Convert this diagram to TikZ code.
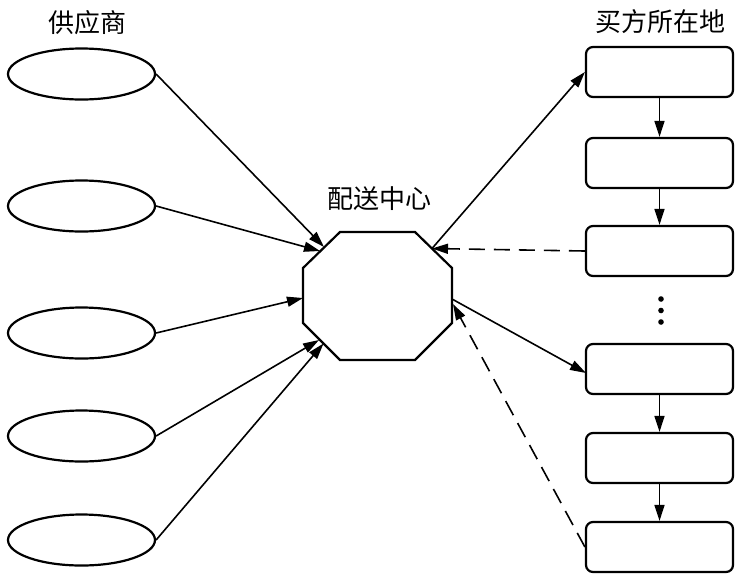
\documentclass[tikz,border=0pt]{standalone}
\usepackage{fontspec}
\newfontfamily\cjk{Noto Sans CJK SC}
\usetikzlibrary{shapes.geometric,arrows.meta}
\begin{document}
\begin{tikzpicture}[x=1pt,y=-1pt,
  sup/.style={ellipse,draw,line width=2.2pt,minimum width=147pt,minimum height=51pt,inner sep=0pt},
  buyer/.style={draw,rounded corners=7pt,line width=2.2pt,minimum width=147pt,minimum height=50pt,inner sep=0pt},
  lbl/.style={font=\cjk\fontsize{26}{26}\selectfont,inner sep=0pt},
  arr/.style={line width=1.6pt,-{Triangle[length=16pt,width=10pt]}},
  darr/.style={arr,dash pattern=on 16pt off 9pt}]
\useasboundingbox (0,0) rectangle (741,582);
% labels
\node[lbl] (lsup) at (87,23) {供应商};
\node[lbl] (lbuy) at (660,22) {买方所在地};
\node[lbl] (lhub) at (379,199) {配送中心};
% suppliers
\node[sup] (e1) at (81.5,74) {};
\node[sup] (e2) at (81.5,206) {};
\node[sup] (e3) at (81.5,333) {};
\node[sup] (e4) at (81.5,436) {};
\node[sup] (e5) at (81.5,540) {};
% buyers
\node[buyer] (r1) at (659.5,72) {};
\node[buyer] (r2) at (659.5,163) {};
\node[buyer] (r3) at (659.5,251) {};
\node[buyer] (r4) at (659.5,369) {};
\node[buyer] (r5) at (659.5,458) {};
\node[buyer] (r6) at (659.5,547) {};
% hub octagon
\draw[line width=2.2pt] (340,232) -- (415,232) -- (452,268) -- (452,323) -- (415,360) -- (340,360) -- (303,323) -- (303,268) -- cycle;
\coordinate (h1) at (324,247);
\coordinate (h2) at (320,251);
\coordinate (h3) at (303,298);
\coordinate (h4) at (319,340);
\coordinate (h5) at (323.5,343.5);
\coordinate (hR1) at (432,248.5);
\coordinate (hR2) at (452,299);
\coordinate (hR3) at (453,304);
\coordinate (r4in) at (586,373);
% dots
\fill (661,299) circle (2.8pt);
\fill (661,310.5) circle (2.8pt);
\fill (661,322) circle (2.8pt);
% connectors
\draw[arr] (e1.east) -- (h1);
\draw[arr] (e2.east) -- (h2);
\draw[arr] (e3.east) -- (h3);
\draw[arr] (e4.east) -- (h4);
\draw[arr] (e5.east) -- (h5);
\draw[arr] (hR1) -- (r1.west);
\draw[darr] (r3.west) -- (hR1);
\draw[arr] (hR2) -- (r4in);
\draw[darr] (r6.west) -- (hR3);
\draw[arr] (r1.south) -- (r2.north);
\draw[arr] (r2.south) -- (r3.north);
\draw[arr] (r4.south) -- (r5.north);
\draw[arr] (r5.south) -- (r6.north);
\end{tikzpicture}
\end{document}
